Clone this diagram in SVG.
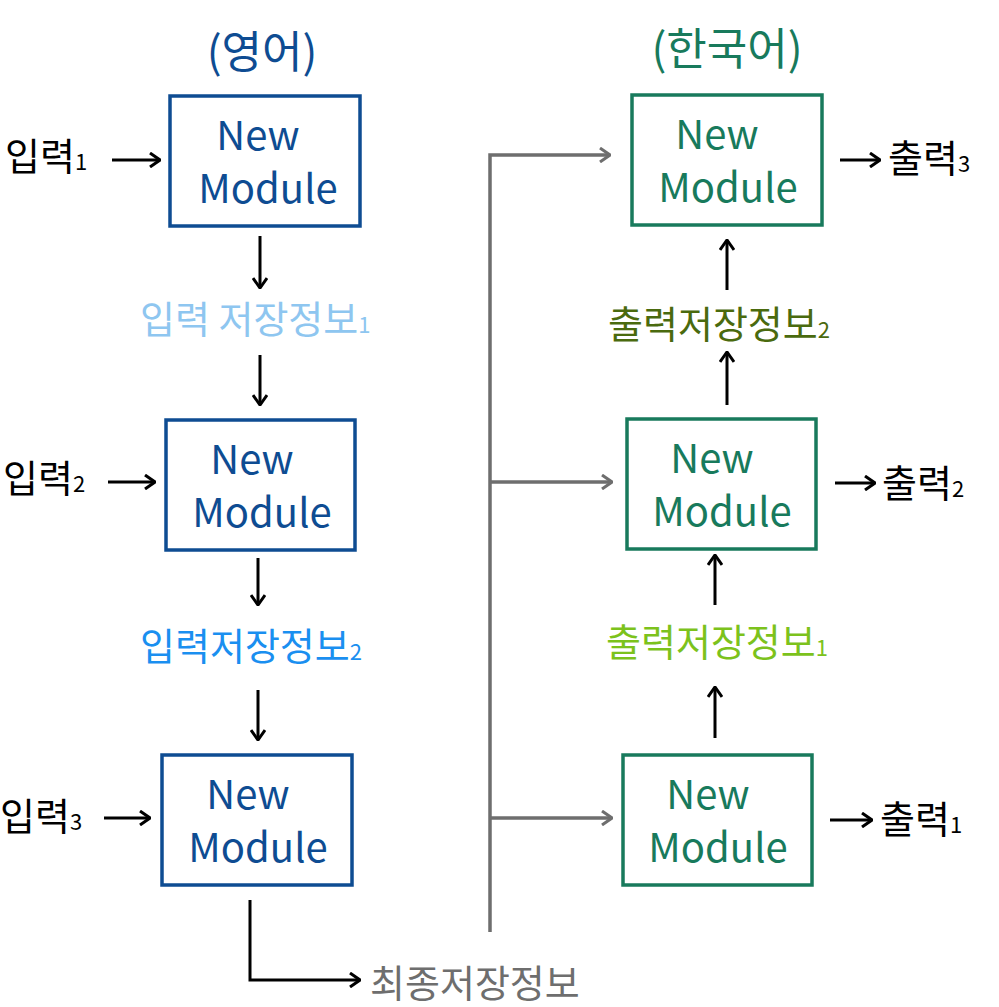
<svg xmlns="http://www.w3.org/2000/svg" width="999" height="1007" viewBox="0 0 999 1007">
<style>
text{font-family:"Noto Sans CJK KR","Noto Sans",sans-serif}
.bb{fill:#fff;stroke:#0e4c92;stroke-width:3.5}
.gb{fill:#fff;stroke:#187a5c;stroke-width:3.5}
.bt{fill:#0e4c92;font-size:40px;text-anchor:middle}
.gt{fill:#187a5c;font-size:40px;text-anchor:middle}
.k{stroke:#000;stroke-width:3;fill:none}
.g{stroke:#6e6e6e;stroke-width:3.5;fill:none}
.lab{font-size:38px}
.sub{font-size:22px}
</style>
<defs>
<marker id="a" viewBox="0 0 12 16" refX="11" refY="8" markerWidth="12" markerHeight="16" markerUnits="userSpaceOnUse" orient="auto"><path d="M1 1L11 8L1 15" fill="none" stroke="#000" stroke-width="3"/></marker>
<marker id="ag" viewBox="0 0 12 16" refX="11" refY="8" markerWidth="12" markerHeight="16" markerUnits="userSpaceOnUse" orient="auto"><path d="M1 1L11 8L1 15" fill="none" stroke="#6e6e6e" stroke-width="3"/></marker>
</defs>
<text x="262" y="68" font-size="44" fill="#0e4c92" text-anchor="middle">(영어)</text>
<text x="727" y="65" font-size="44" fill="#187a5c" text-anchor="middle">(한국어)</text>
<g id="L1"><rect class="bb" x="170" y="96" width="190" height="130"/><text class="bt" x="258" y="150">New</text><text class="bt" x="268" y="203">Module</text></g>
<g id="L2"><rect class="bb" x="166" y="420" width="189" height="130"/><text class="bt" x="252" y="474">New</text><text class="bt" x="262" y="527">Module</text></g>
<g id="L3"><rect class="bb" x="162" y="755" width="190" height="130"/><text class="bt" x="248" y="809">New</text><text class="bt" x="258" y="862">Module</text></g>
<g id="R1"><rect class="gb" x="632" y="95" width="190" height="130"/><text class="gt" x="717" y="149">New</text><text class="gt" x="728" y="202">Module</text></g>
<g id="R2"><rect class="gb" x="627" y="419" width="189" height="130"/><text class="gt" x="712" y="473">New</text><text class="gt" x="722" y="526">Module</text></g>
<g id="R3"><rect class="gb" x="623" y="755" width="189" height="130"/><text class="gt" x="708" y="809">New</text><text class="gt" x="718" y="862">Module</text></g>
<g id="labels">
<text class="lab" x="5" y="170">입력<tspan class="sub">1</tspan></text>
<text class="lab" x="3" y="492">입력<tspan class="sub">2</tspan></text>
<text class="lab" x="0" y="830">입력<tspan class="sub">3</tspan></text>
<text class="lab" x="140" y="333" fill="#8ec6f0">입력 저장정보<tspan class="sub">1</tspan></text>
<text class="lab" x="140" y="660" fill="#1a8ff0">입력저장정보<tspan class="sub">2</tspan></text>
<text class="lab" x="608" y="338" fill="#4a6a0e">출력저장정보<tspan class="sub">2</tspan></text>
<text class="lab" x="606" y="656" fill="#7cc21c">출력저장정보<tspan class="sub">1</tspan></text>
<text class="lab" x="888" y="172">출력<tspan class="sub">3</tspan></text>
<text class="lab" x="882" y="497">출력<tspan class="sub">2</tspan></text>
<text class="lab" x="880" y="833">출력<tspan class="sub">1</tspan></text>
<text class="lab" x="370" y="997" fill="#6e6e6e">최종저장정보</text>
</g>
<g id="connectors">
<path class="k" d="M112 160H160" marker-end="url(#a)"/>
<path class="k" d="M108 482H155" marker-end="url(#a)"/>
<path class="k" d="M104 818H150" marker-end="url(#a)"/>
<path class="k" d="M260 236V288" marker-end="url(#a)"/>
<path class="k" d="M260 355V405" marker-end="url(#a)"/>
<path class="k" d="M258 558V605" marker-end="url(#a)"/>
<path class="k" d="M258 690V740" marker-end="url(#a)"/>
<path class="k" d="M250 900V980H360" marker-end="url(#a)"/>
<path class="k" d="M727 290V240" marker-end="url(#a)"/>
<path class="k" d="M727 405V352" marker-end="url(#a)"/>
<path class="k" d="M715 605V555" marker-end="url(#a)"/>
<path class="k" d="M715 738V687" marker-end="url(#a)"/>
<path class="k" d="M840 160H880" marker-end="url(#a)"/>
<path class="k" d="M835 483H875" marker-end="url(#a)"/>
<path class="k" d="M830 820H872" marker-end="url(#a)"/>
<path class="g" d="M490 932V155H610" marker-end="url(#ag)"/>
<path class="g" d="M490 482H612" marker-end="url(#ag)"/>
<path class="g" d="M490 818H612" marker-end="url(#ag)"/>
</g>
</svg>
